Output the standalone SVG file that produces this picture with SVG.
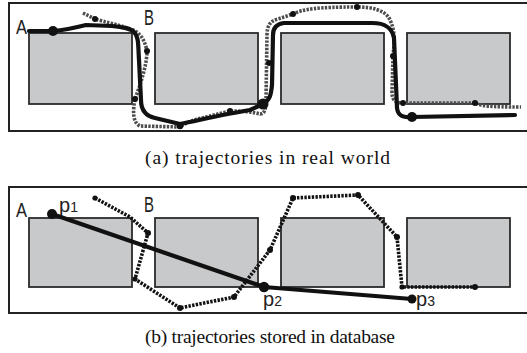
<svg xmlns="http://www.w3.org/2000/svg" width="527" height="353" viewBox="0 0 527 353">
<style>
.frame{fill:#fff;stroke:#222;stroke-width:2}
.blk{fill:#c8c9cb;stroke:#2b2b2b;stroke-width:1.8}
.solid{fill:none;stroke:#111;stroke-width:4.2;stroke-linecap:round;stroke-linejoin:round}
.dotg{fill:none;stroke:#4d4d4d;stroke-width:3.6;stroke-dasharray:2.4 1.3}
.dotb{fill:none;stroke:#111;stroke-width:3.6;stroke-dasharray:2.4 1.3}
.pt{fill:#111}
.lbl{font-family:"Liberation Sans","DejaVu Sans",sans-serif;fill:#222}
.plbl{font-family:"Liberation Sans","DejaVu Sans",sans-serif;fill:#222;font-size:20px}
.sub{font-size:14px}
.cap{font-family:"Liberation Serif","Times New Roman",serif;font-size:19.5px;fill:#111}
</style>
<rect width="527" height="353" fill="#fff"/>
<g id="panel-a">
  <rect class="frame" x="9" y="3" width="530" height="128"/>
  <g id="a-block1"><rect class="blk" x="29" y="33" width="103" height="71"/></g>
  <g id="a-block2"><rect class="blk" x="155" y="33" width="103" height="71"/></g>
  <g id="a-block3"><rect class="blk" x="281" y="33" width="103" height="71"/></g>
  <g id="a-block4"><rect class="blk" x="407" y="33" width="103" height="71"/></g>
  <g id="a-labelA"><text class="lbl" x="16" y="34" font-size="21" textLength="11" lengthAdjust="spacingAndGlyphs">A</text></g>
  <g id="a-labelB"><text class="lbl" x="144" y="25" font-size="22" textLength="10" lengthAdjust="spacingAndGlyphs">B</text></g>
</g>
<g id="panel-b">
  <rect class="frame" x="9" y="187" width="530" height="126"/>
  <g id="b-block1"><rect class="blk" x="29" y="218" width="103" height="69"/></g>
  <g id="b-block2"><rect class="blk" x="155" y="218" width="103" height="69"/></g>
  <g id="b-block3"><rect class="blk" x="281" y="218" width="103" height="69"/></g>
  <g id="b-block4"><rect class="blk" x="407" y="218" width="103" height="69"/></g>
  <g id="b-labelA"><text class="lbl" x="16" y="217" font-size="21" textLength="11" lengthAdjust="spacingAndGlyphs">A</text></g>
  <g id="b-labelB"><text class="lbl" x="144" y="212" font-size="22" textLength="10" lengthAdjust="spacingAndGlyphs">B</text></g>
  <g id="b-p1"><text class="plbl" x="59" y="212">p<tspan class="sub">1</tspan></text></g>
  <g id="b-p2"><text class="plbl" x="263" y="306">p<tspan class="sub" font-size="16">2</tspan></text></g>
  <g id="b-p3"><text class="plbl" x="416" y="306">p<tspan class="sub" font-size="16">3</tspan></text></g>
</g>
<g id="connectors">
  <path class="dotg" d="M83,13 L95,19 C105,22 120,25 133,30 C142,34 145,42 147,51 C147,62 143,75 140,85 L135,99 C133,110 132,122 140,126 L180,127 C186,123 192,120 202,118 L230,111 C243,111 253,112 260,114 C265,114 266,108 266,100 L267,35 C267,26 270,21 278,19 L293,14 C303,9 318,7 357,7 C372,7 384,10 389,18 C393,25 395,35 394,45 L393,56 L392,92 C392,100 395,103 403,103 L475,103 C481,106 490,107 521,107"/>
  <path class="solid" d="M29,31 L53,31 C65,30 78,27 86,25 L112,26 C122,27 130,28 134,32 C139,37 138,45 139,60 L141,100 C141,110 146,116 155,118 L180,124 C200,120 225,114 250,110 L263,104 C270,100 271,95 272,85 L273,35 C273,28 276,24 284,23 L372,23 C386,23 392,28 394,38 L397,108 C398,116 403,118 412,117 L515,115"/>
  <path class="dotb" d="M95,198 L130,217 L148,233 L135,279 L180,308 L234,297 L270,250 L293,198 L358,195 L397,237 L402,287 L475,287"/>
  <path class="solid" d="M52,214 L264,287 L412,299"/>
  <g class="pt">
    <circle cx="95" cy="19" r="3"/>
    <circle cx="147" cy="51" r="3"/>
    <circle cx="135" cy="99" r="3"/>
    <circle cx="180" cy="126" r="3.3"/>
    <circle cx="230" cy="111" r="3"/>
    <circle cx="269" cy="63" r="3"/>
    <circle cx="293" cy="14" r="3"/>
    <circle cx="357" cy="7" r="3"/>
    <circle cx="393" cy="56" r="3"/>
    <circle cx="403" cy="103" r="3"/>
    <circle cx="475" cy="103" r="3"/>
    <circle cx="53" cy="31" r="5"/>
    <circle cx="263" cy="104" r="5.5"/>
    <circle cx="412" cy="117" r="5"/>
    <circle cx="95" cy="198" r="2.6"/>
    <circle cx="148" cy="233" r="3"/>
    <circle cx="135" cy="279" r="2.6"/>
    <circle cx="180" cy="308" r="3"/>
    <circle cx="234" cy="297" r="3"/>
    <circle cx="270" cy="250" r="3"/>
    <circle cx="293" cy="198" r="3"/>
    <circle cx="358" cy="195" r="3"/>
    <circle cx="397" cy="237" r="3"/>
    <circle cx="402" cy="287" r="2.6"/>
    <circle cx="475" cy="287" r="3"/>
    <circle cx="52" cy="214" r="5"/>
    <circle cx="264" cy="287" r="5.2"/>
    <circle cx="412" cy="299" r="4.5"/>
  </g>
</g>
<g id="captions">
  <text class="cap" x="145" y="164" textLength="245" lengthAdjust="spacing">(a) trajectories in real world</text>
  <text class="cap" x="145" y="343" textLength="250" lengthAdjust="spacing">(b) trajectories stored in database</text>
</g>
</svg>
